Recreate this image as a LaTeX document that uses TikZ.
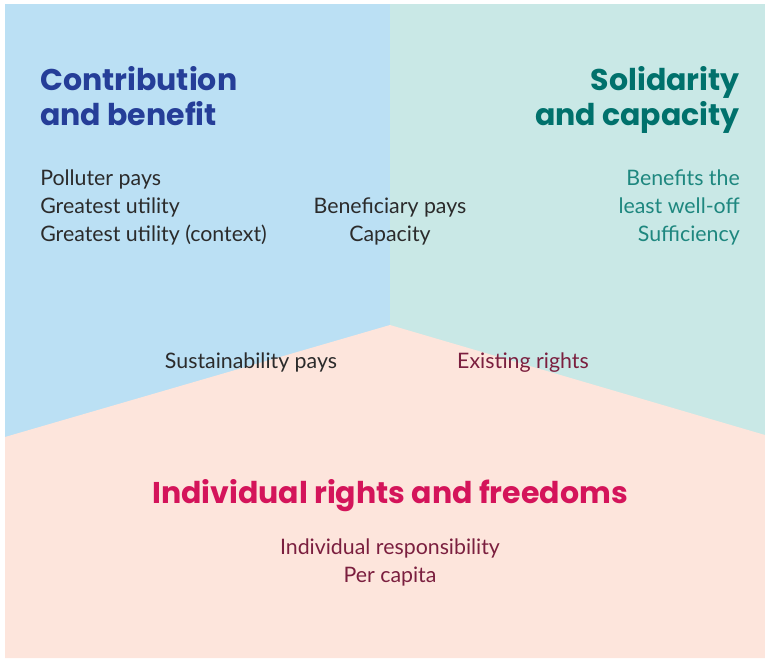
\documentclass[tikz,border=0pt]{standalone}
\usepackage{fontspec}
\setmainfont{Lato}
\newfontfamily\headfont{Poppins}
\definecolor{ContribBlue}{RGB}{187,224,244}
\definecolor{SolidTeal}{RGB}{201,232,230}
\definecolor{RightsPeach}{RGB}{253,229,220}
\definecolor{ContribInk}{RGB}{37,62,152}
\definecolor{SolidInk}{RGB}{0,113,108}
\definecolor{SolidText}{RGB}{30,135,127}
\definecolor{RightsInk}{RGB}{212,20,90}
\definecolor{RightsText}{RGB}{123,31,63}
\definecolor{BodyText}{RGB}{43,43,43}
\usetikzlibrary{positioning}

\begin{document}
\begin{tikzpicture}[x=0.75pt,y=-0.75pt,
    heading/.style={font=\headfont\fontsize{22.5}{26.25}\selectfont\bfseries,inner sep=0pt},
    item/.style={font=\fontsize{16}{21}\selectfont,inner sep=0pt}]
    \useasboundingbox (0,0) rectangle (765,658);
    % three fields of the diagram
    \fill[ContribBlue] (5,4) rectangle (390,440);
    \fill[SolidTeal] (390,4) rectangle (765,440);
    \fill[RightsPeach] (5,437) -- (390,325) -- (765,435) -- (765,658) -- (5,658) -- cycle;
    % headings (base = last line)
    \node[heading,ContribInk,align=left,anchor=base west] (contrib) at (40,125) {Contribution\\and benefit};
    \node[heading,SolidInk,align=right,anchor=base east] (solid) at (740,125) {Solidarity\\and capacity};
    \node[heading,RightsInk,anchor=base] (rights) at (390,503) {Individual rights and freedoms};
    % principles
    \node[item,BodyText,align=left,anchor=base west] (contribitems) at (40,241) {Polluter pays\\Greatest utility\\Greatest utility (context)};
    \node[item,SolidText,align=right,anchor=base east] (soliditems) at (740,241) {Benefits the\\least well-off\\Sufficiency};
    \node[item,BodyText,align=center,anchor=base] (shared) at (390,241) {Beneficiary pays\\Capacity};
    \node[item,BodyText,anchor=base] (sustain) at (251,368) {Sustainability pays};
    \node[item,RightsText,anchor=base] (existing) at (523,368) {Existing rights};
    \node[item,RightsText,align=center,anchor=base] (rightsitems) at (390,582) {Individual responsibility\\Per capita};
\end{tikzpicture}
\end{document}
